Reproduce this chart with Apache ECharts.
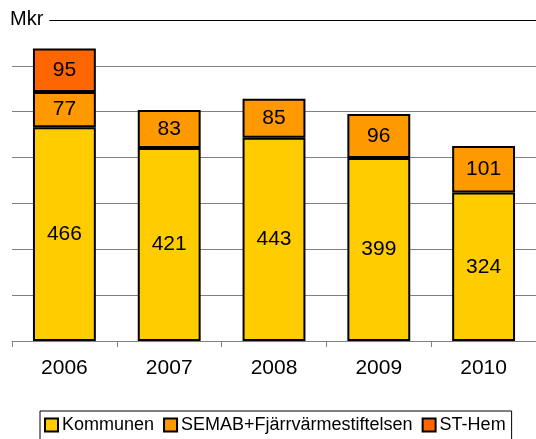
<!DOCTYPE html>
<html>
<head>
<meta charset="utf-8">
<script src="https://cdn.jsdelivr.net/npm/echarts@6/dist/echarts.min.js"></script>
<style>
  html, body { margin: 0; padding: 0; background: #fff; }
  #chart { width: 536px; height: 439px; }
</style>
</head>
<body>
<div id="chart"></div>
<script>
// 年份
const years = ["2006", "2007", "2008", "2009", "2010"];
// 各部分（Mkr）
const kommunen = [466, 421, 443, 399, 324];
const semab = [77, 83, 85, 96, 101];
const stHem = [95, null, null, null, null];

const seriesNames = ["Kommunen", "SEMAB+Fjärrvärmestiftelsen", "ST-Hem"];
const seriesColors = ["#FFCC00", "#FF9900", "#FF6600"];
const seriesData = [kommunen, semab, stHem];

const font = "'Liberation Sans', Arial, sans-serif";

let myChart = echarts.init(document.getElementById("chart"));
let option = {
  animation: false,
  grid: { left: 12, right: -3, top: 20, bottom: 98 },
  legend: {
    top: 411,
    left: 40,
    data: seriesNames,
    icon: "rect",
    itemWidth: 13,
    itemHeight: 13,
    itemGap: 9,
    padding: [5, 6, 8, 4],
    borderColor: "#000",
    borderWidth: 1,
    borderRadius: 0,
    textStyle: { fontFamily: font, fontSize: 18, color: "#000", padding: [0, 0, 0, -1] },
    itemStyle: { borderColor: "#000", borderWidth: 2 }
  },
  xAxis: {
    type: "category",
    data: years,
    axisLine: { lineStyle: { color: "#808080", width: 1 } },
    axisTick: { show: true, length: 6, lineStyle: { color: "#808080" } },
    axisLabel: { fontFamily: font, fontSize: 21, color: "#000", margin: 17 }
  },
  yAxis: {
    type: "value",
    min: 0,
    max: 700,
    interval: 100,
    axisLabel: { show: false },
    axisLine: { show: false },
    axisTick: { show: false },
    splitLine: {
      lineStyle: {
        color: ["#808080", "#808080", "#808080", "#808080", "#808080", "#808080", "#808080", "#000"],
        width: 1
      }
    }
  },
  graphic: [
    {
      type: "text",
      left: 6,
      top: 9,
      z: 100,
      style: {
        text: "Mkr",
        fontFamily: font,
        fontSize: 20,
        fill: "#000",
        backgroundColor: "#fff",
        padding: [0, 6, 0, 4]
      }
    }
  ],
  series: seriesData.map((d, i) => ({
    name: seriesNames[i],
    type: "bar",
    stack: "total",
    barWidth: "60%",
    data: d,
    itemStyle: { color: seriesColors[i], borderColor: "#000", borderWidth: 2 },
    label: {
      show: true,
      position: "inside",
      fontFamily: font,
      fontSize: 21,
      color: "#000"
    }
  }))
};
myChart.setOption(option);
</script>
</body>
</html>
